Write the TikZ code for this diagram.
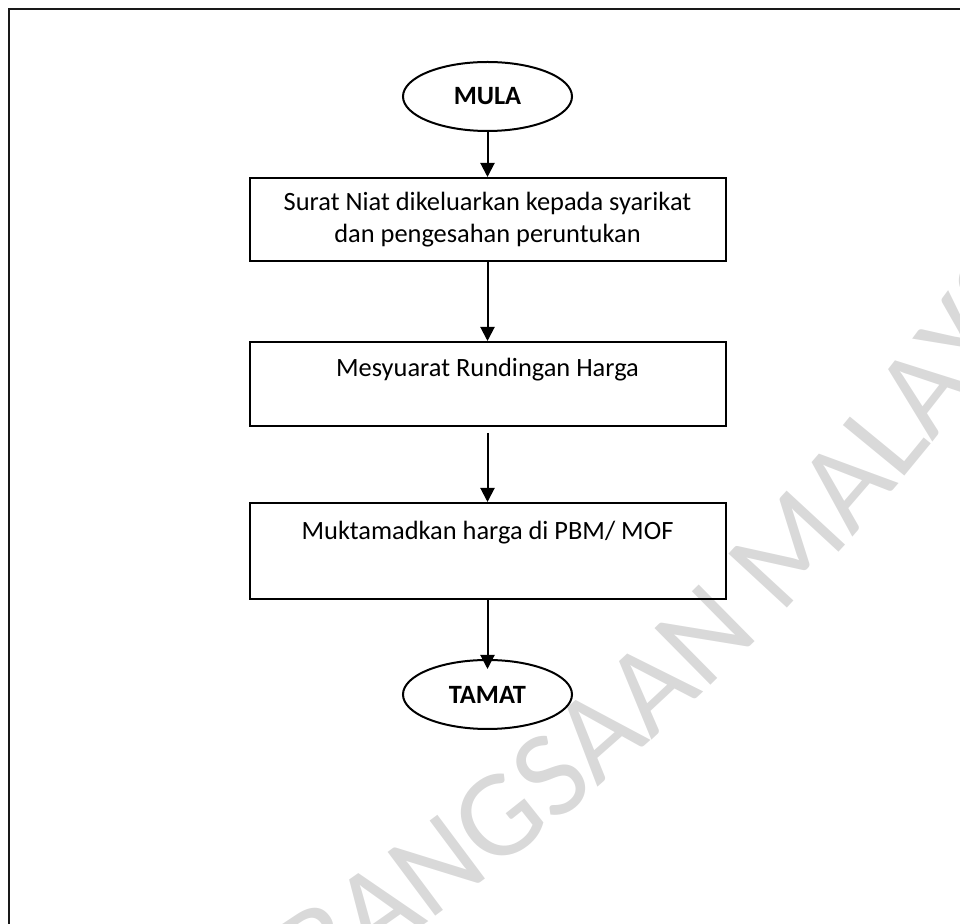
\documentclass[tikz,border=0pt]{standalone}
\usepackage{fontspec}
\setmainfont{Carlito}
\usetikzlibrary{arrows.meta,positioning,shapes.geometric,decorations.text,calc}

\newcommand{\wmfont}{\fontsize{62}{62}\selectfont}
\tikzset{
  term/.style={ellipse, draw=black, line width=1pt, minimum width=84.5pt,
               minimum height=34.5pt, inner sep=0pt,
               font=\fontsize{13.2}{16.3}\selectfont\bfseries},
  stepbox/.style={rectangle, draw=black, line width=1pt, minimum width=238pt,
                  align=center, inner sep=0pt, font=\fontsize{13.2}{16.3}\selectfont},
  ar/.style={-{Triangle[width=7pt,length=7pt]}, line width=1pt},
  frm/.style={line width=1.3pt, draw=black!90},
  wmark/.style={decorate, decoration={text along path, text align=left,
                text color=black!15, text={|\wmfont|BANGSAAN MALAYS}}},
}

\begin{document}
\begin{tikzpicture}[x=0.5pt, y=0.5pt]
\useasboundingbox (0,0) rectangle (960,-924);

% ============================ watermark =================================
\begin{scope}
  \clip (0,0) rectangle (960,-924);
  \path[wmark] ($(-1098,1191)+(-57.2:2606)$) arc (-57.2:-31:2606);
\end{scope}

% ============================ page frame ================================
\draw[frm] (9,-924) -- (9,-9) -- (960,-9);

% ============================ flow ======================================
\node[term] (mula) at (487.5,-96.5) {MULA};
\node[stepbox, minimum height=41.5pt, below=22.5pt of mula] (surat)
  {Surat Niat dikeluarkan kepada syarikat\\dan pengesahan peruntukan};
\node[stepbox, minimum height=42pt, below=39.5pt of surat] (runding)
  {Mesyuarat Rundingan Harga\\\mbox{}};
\node[stepbox, minimum height=48pt, below=37.5pt of runding] (muktamad)
  {Muktamadkan harga di PBM/ MOF\\[4.5pt]\mbox{}};
\node[term, below=29.5pt of muktamad] (tamat) {TAMAT};

% ============================ arrows ====================================
\draw[ar] (mula) -- (surat);
\draw[ar] (surat) -- (runding);
\draw[ar, shorten <=3pt] (runding) -- (muktamad);
\draw[ar, shorten >=-5pt] (muktamad) -- (tamat);

\end{tikzpicture}
\end{document}
